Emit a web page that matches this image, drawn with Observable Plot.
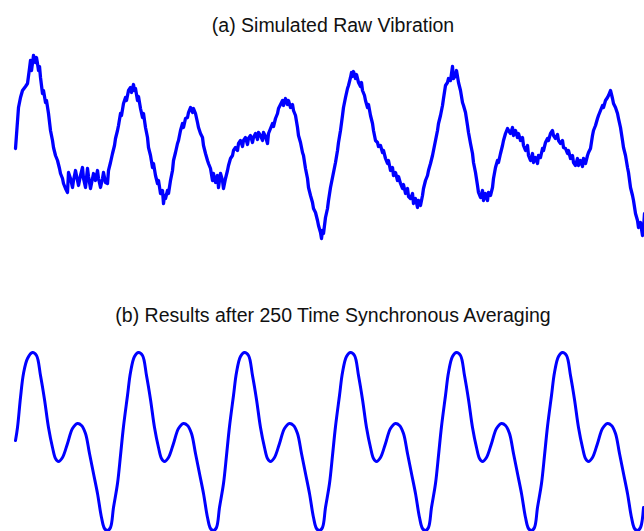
<!DOCTYPE html>
<html>
<head>
<meta charset="utf-8">
<script src="https://cdn.jsdelivr.net/npm/d3@7"></script>
<script src="https://cdn.jsdelivr.net/npm/@observablehq/plot@0.6"></script>
<style>
  html, body { margin: 0; padding: 0; background: #ffffff; }
  #wrap { position: relative; width: 644px; height: 531px; overflow: hidden; background: #fff; }
  .title { position: absolute; left: 333px; transform: translateX(-50%); white-space: nowrap;
           font-family: "Liberation Sans", Arial, sans-serif; font-size: 19.5px; line-height: 19.5px; color: #111; }
  .panel { position: absolute; left: 0; }
</style>
</head>
<body>
<div id="wrap">
  <div class="title" id="titleA" style="top:15.5px"></div>
  <div class="panel" id="panelA" style="top:40px"></div>
  <div class="title" id="titleB" style="top:305.5px"></div>
  <div class="panel" id="panelB" style="top:331px"></div>
</div>
<script>
// ---- Data (time in samples, amplitude in arbitrary units) ----
const titles = ["(a) Simulated Raw Vibration", "(b) Results after 250 Time Synchronous Averaging"];

const rawVibration = [[0,2],[3,43],[5,53],[7,60],[10,64],[12,67],[14,82],[15,90],[16,80],[18,95],[20,88],[21,93],[22,87],[23,80],[24,84],[25,73],[27,57],[28,60],[30,48],[31,50],[33,37],[35,20],[37,10],[38,3],[40,-5],[42,-10],[44,-18],[45,-23],[47,-28],[48,-33],[50,-38],[52,-42],[53,-22],[55,-28],[57,-37],[58,-30],[60,-20],[62,-30],[63,-35],[65,-25],[67,-17],[68,-28],[70,-37],[72,-18],[73,-26],[75,-38],[77,-28],[78,-23],[80,-30],[82,-20],[83,-28],[85,-37],[87,-28],[88,-22],[90,-32],[92,-33],[93,-20],[95,-12],[97,-3],[99,5],[100,12],[102,20],[103,25],[105,37],[106,35],[108,47],[110,53],[111,50],[113,60],[115,63],[116,58],[118,66],[119,60],[120,62],[122,50],[123,54],[125,42],[127,33],[128,37],[130,23],[132,13],[133,3],[135,-5],[137,-17],[138,-13],[140,-25],[142,-33],[143,-30],[145,-43],[147,-40],[148,-53],[149,-45],[150,-48],[152,-40],[153,-43],[155,-30],[157,-20],[158,-10],[160,-2],[162,7],[163,10],[165,20],[167,27],[168,23],[170,32],[172,33],[173,38],[175,43],[177,38],[178,42],[180,37],[182,28],[183,23],[185,17],[187,13],[188,5],[190,-3],[192,-10],[193,-13],[195,-18],[197,-30],[198,-23],[200,-32],[202,-25],[203,-37],[205,-23],[207,-30],[208,-38],[210,-28],[212,-20],[213,-15],[215,-8],[217,-5],[218,0],[220,3],[222,0],[223,7],[225,10],[227,4],[228,10],[230,13],[232,6],[233,12],[235,15],[237,8],[238,13],[240,17],[242,11],[243,18],[245,15],[247,10],[248,18],[250,14],[252,7],[253,17],[255,22],[257,27],[258,24],[260,32],[262,37],[263,42],[265,46],[267,50],[268,45],[270,52],[272,46],[273,50],[275,43],[277,46],[278,40],[280,35],[282,23],[283,15],[285,8],[287,-2],[288,-5],[290,-18],[292,-28],[293,-37],[295,-45],[297,-52],[298,-58],[300,-62],[302,-70],[303,-75],[305,-82],[306,-88],[307,-80],[308,-83],[310,-67],[312,-58],[313,-50],[315,-37],[317,-27],[318,-22],[320,-12],[322,0],[323,8],[325,20],[327,35],[328,43],[330,53],[332,62],[333,65],[335,73],[336,78],[337,74],[338,79],[340,72],[341,76],[343,68],[345,64],[346,68],[347,60],[349,55],[350,50],[352,43],[353,46],[355,35],[357,27],[358,20],[360,10],[362,8],[363,4],[365,5],[367,-2],[368,0],[370,-8],[372,-13],[373,-10],[375,-20],[377,-17],[378,-25],[380,-22],[382,-30],[383,-26],[385,-33],[387,-38],[388,-34],[390,-43],[392,-38],[393,-46],[395,-48],[397,-43],[398,-53],[400,-48],[402,-57],[403,-50],[405,-55],[407,-45],[408,-38],[410,-30],[412,-25],[413,-20],[415,-13],[417,-5],[418,0],[420,10],[422,20],[423,27],[425,35],[427,45],[428,52],[430,65],[432,68],[433,72],[435,70],[437,84],[438,72],[440,75],[441,80],[443,68],[445,60],[447,48],[448,45],[450,38],[452,25],[453,18],[455,7],[457,-3],[458,-12],[460,-22],[462,-35],[463,-42],[465,-47],[467,-40],[468,-50],[470,-43],[472,-50],[473,-42],[475,-45],[477,-37],[478,-28],[480,-17],[482,-10],[483,-12],[485,-3],[487,5],[488,10],[490,17],[492,22],[493,20],[495,17],[497,23],[498,15],[500,20],[502,13],[503,17],[505,10],[507,13],[508,5],[510,0],[512,5],[513,-5],[515,-10],[517,-3],[518,-12],[520,-7],[522,-13],[523,-5],[525,-7],[527,2],[528,0],[530,8],[532,12],[533,10],[535,17],[537,20],[538,15],[540,12],[542,16],[543,10],[545,7],[547,10],[548,3],[550,2],[552,-3],[553,0],[555,-8],[557,-5],[558,-12],[560,-15],[562,-8],[563,-15],[565,-10],[567,-16],[568,-8],[570,-13],[572,-5],[573,-2],[575,2],[577,15],[578,20],[580,25],[582,32],[583,35],[585,40],[587,45],[588,43],[590,50],[592,53],[593,55],[595,60],[597,52],[598,47],[600,43],[602,37],[603,32],[605,23],[607,10],[608,3],[610,-5],[612,-17],[613,-22],[615,-37],[617,-45],[618,-50],[620,-63],[622,-70],[623,-77],[625,-72],[627,-85],[628,-78],[629,-63]];

const averaged = [[0,1],[2,14],[5,44],[8,68],[12,83],
[17,89],[21,86],[25,66],[29,42],[33,14],[37,-6],[40,-17],[43,-20],[47,-16],[52,-2],[57,13],[62,18],[66,16],[70,8],[74,-12],[78,-32],[82,-52],[86,-76],[89,-87],[92,-89],[95,-86],[98,-66],[102,-42],[105,-14],[108,15],[112,46],[115,69],[119,85],
[123,89],[127,86],[131,66],[135,42],[139,14],[143,-6],[146,-17],[149,-20],[153,-16],[158,-2],[163,13],[168,18],[172,16],[176,8],[180,-12],[184,-32],[188,-52],[192,-76],[195,-87],[198,-89],[201,-86],[204,-66],[208,-42],[211,-14],[214,15],[218,46],[221,69],[225,85],
[229,89],[233,86],[237,66],[241,42],[245,14],[249,-6],[252,-17],[255,-20],[259,-16],[264,-2],[269,13],[274,18],[278,16],[282,8],[286,-12],[290,-32],[294,-52],[298,-76],[301,-87],[304,-89],[307,-86],[310,-66],[314,-42],[317,-14],[320,15],[324,46],[327,69],[331,85],
[335,89],[339,86],[343,66],[347,42],[351,14],[355,-6],[358,-17],[361,-20],[365,-16],[370,-2],[375,13],[380,18],[384,16],[388,8],[392,-12],[396,-32],[400,-52],[404,-76],[407,-87],[410,-89],[413,-86],[416,-66],[420,-42],[423,-14],[426,15],[430,46],[433,69],[437,85],
[441,89],[445,86],[449,66],[453,42],[457,14],[461,-6],[464,-17],[467,-20],[471,-16],[476,-2],[481,13],[486,18],[490,16],[494,8],[498,-12],[502,-32],[506,-52],[510,-76],[513,-87],[516,-89],[519,-86],[522,-66],[526,-42],[529,-14],[532,15],[536,46],[539,69],[543,85],
[547,89],[551,86],[555,66],[559,42],[563,14],[567,-6],[570,-17],[573,-20],[577,-16],[582,-2],[587,13],[592,18],[596,16],[600,8],[604,-12],[608,-32],[612,-52],[616,-76],[619,-87],[622,-89],[625,-86],[628,-66]];

const timeDomain = [0, 629];
const rawDomain = [-110, 110];
const avgDomain = [-90, 110];
const lineColor = "#0000ff";

// ---- Drawing ----
document.getElementById("titleA").textContent = titles[0];
document.getElementById("titleB").textContent = titles[1];

const toRows = arr => arr.map(([t, v]) => ({t, v}));

function panel(data, yDomain, height, width, curve) {
  return Plot.plot({
    width: 644,
    height,
    marginLeft: 15, marginRight: 0, marginTop: 0, marginBottom: 0,
    style: {background: "transparent", overflow: "visible"},
    x: {domain: timeDomain, axis: null},
    y: {domain: yDomain, axis: null},
    marks: [
      Plot.line(toRows(data), {x: "t", y: "v", stroke: lineColor, strokeWidth: width, curve, strokeLinejoin: "round"})
    ]
  });
}

document.getElementById("panelA").appendChild(panel(rawVibration, rawDomain, 220, 3.3, "linear"));
document.getElementById("panelB").appendChild(panel(averaged, avgDomain, 200, 3, "catmull-rom"));
</script>
</body>
</html>
